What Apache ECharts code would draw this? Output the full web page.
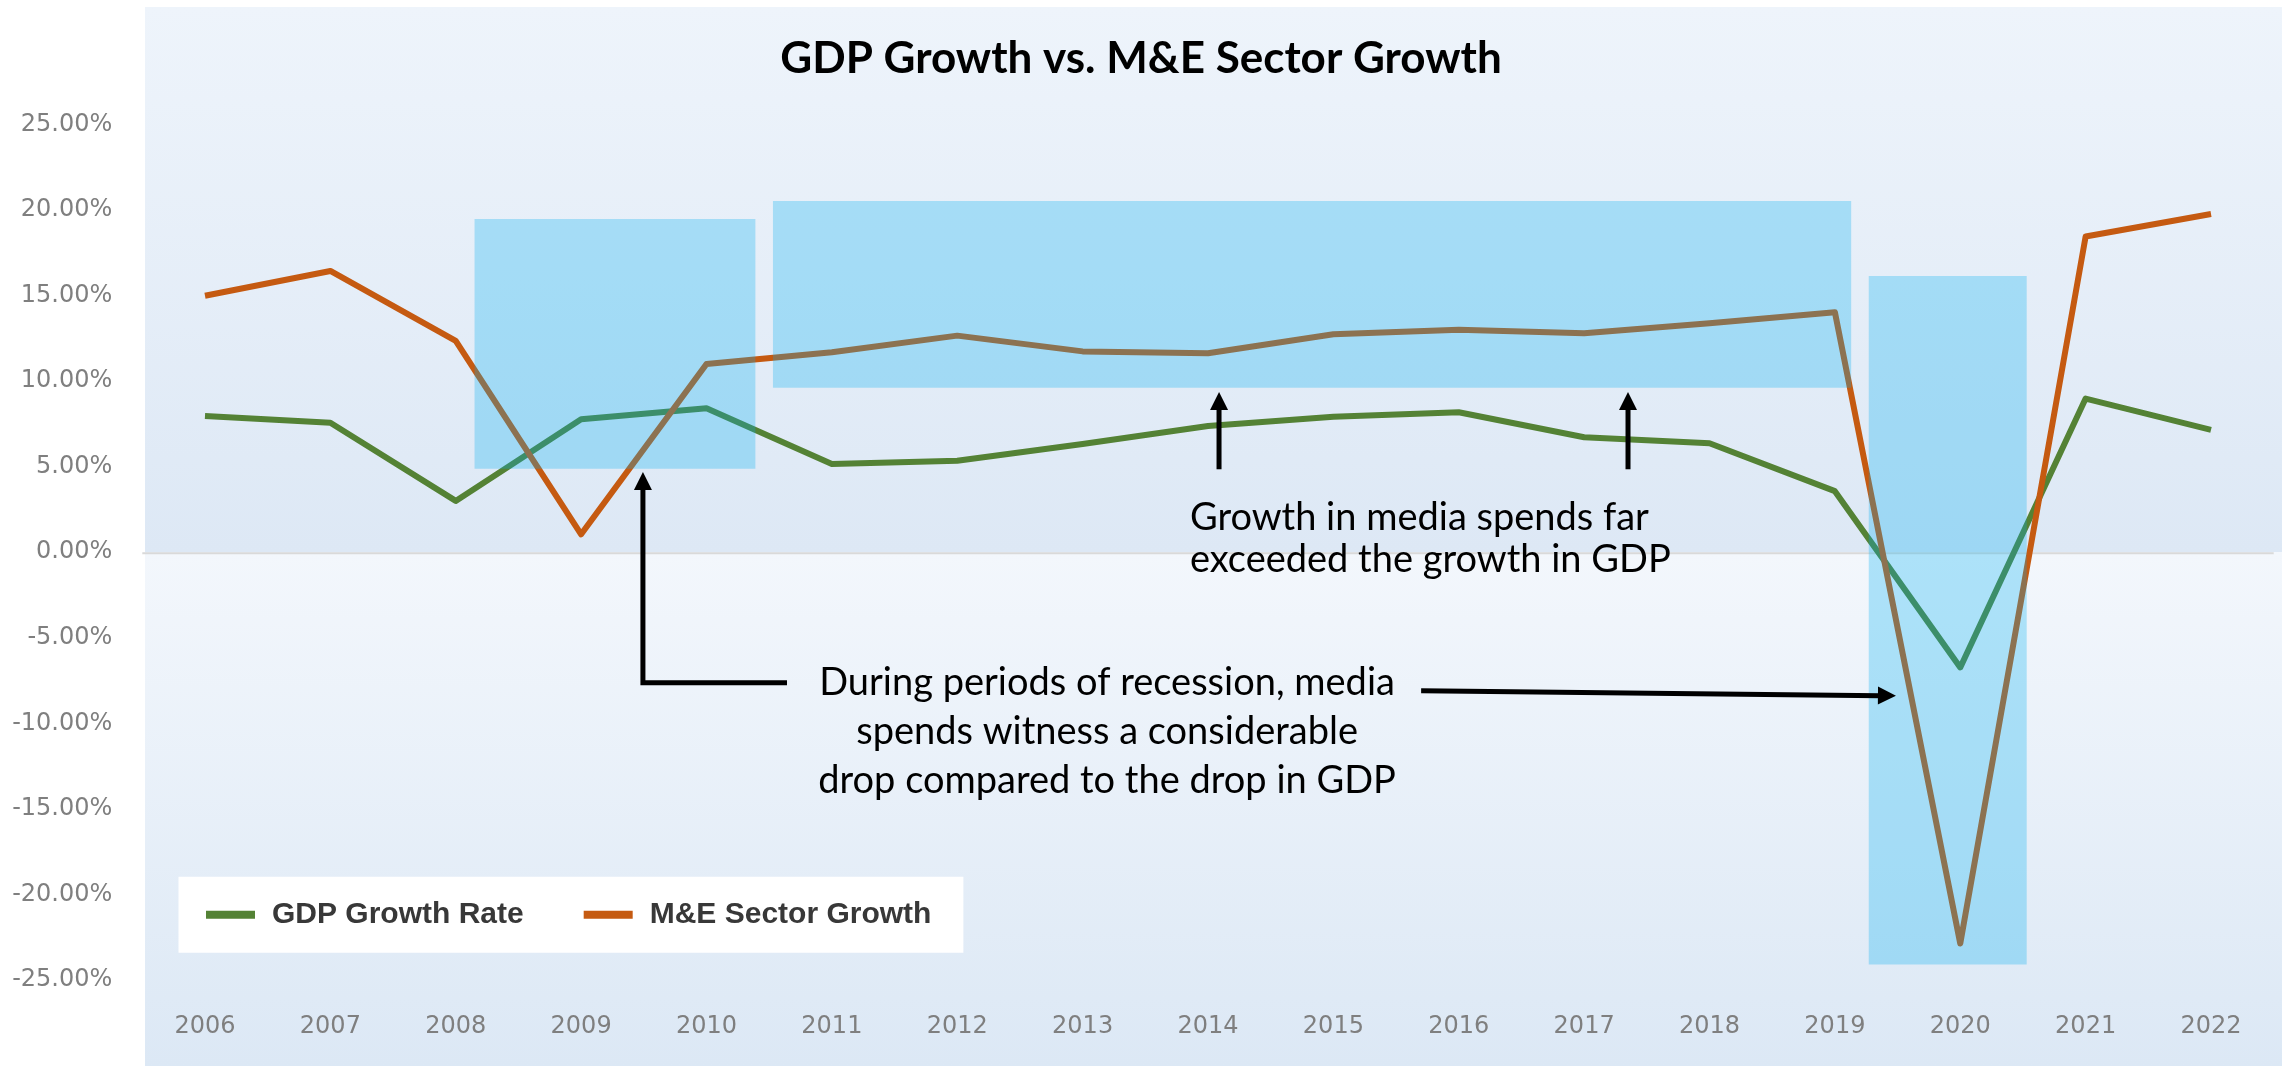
<!DOCTYPE html>
<html><head><meta charset="utf-8">
<script src="https://cdn.jsdelivr.net/npm/echarts@6/dist/echarts.min.js"></script>
<style>html,body{margin:0;padding:0;background:#fff;}#c{width:2282px;height:1066px;}</style>
</head><body><div id="c"></div>
<script>
// ---- data ----
const years = ['2006','2007','2008','2009','2010','2011','2012','2013','2014','2015','2016','2017','2018','2019','2020','2021','2022'];
const gdpGrowth = [7.96, 7.57, 3.00, 7.77, 8.41, 5.16, 5.35, 6.33, 7.38, 7.92, 8.18, 6.72, 6.37, 3.57, -6.73, 8.98, 7.15];
const meGrowth  = [14.99, 16.44, 12.35, 1.05, 11.00, 11.69, 12.66, 11.74, 11.63, 12.74, 13.01, 12.80, 13.38, 14.03, -22.87, 18.45, 19.77];
const yMin = -25, yMax = 25, yStep = 5;
// highlight boxes: [x from (category index), x to, y top %, y bottom %]
const highlightBoxes = [[2.15, 4.39, 19.48, 4.88], [4.53, 13.13, 20.53, 9.62], [13.27, 14.53, 16.15, -24.09]];
// arrows: polylines in [category index, %], last point is the tip
const arrowPaths = [
  [[8.088, 4.85], [8.088, 9.37]],
  [[11.35, 4.85], [11.35, 9.37]],
  [[4.642, -7.62], [3.493, -7.62], [3.493, 4.69]],
  [[9.70, -8.10], [13.487, -8.39]]
];
// notes: [text, x (category index), y (%), align, line height]
const notes = [
  ['Growth in media spends far\nexceeded the growth in GDP', 7.856, 0.77, 'left', 42],
  ['During periods of recession, media\nspends witness a considerable\ndrop compared to the drop in GDP', 7.195, -10.5, 'center', 49]
];

const chart = echarts.init(document.getElementById('c'), null, {renderer: 'canvas'});
const axisFont = {fontFamily: 'DejaVu Sans', fontSize: 24, color: '#7F7F7F'};

const option = {
  animation: false,
  title: {
    text: 'GDP Growth vs. M&E Sector Growth',
    left: 'center', top: 37, padding: 0,
    textStyle: {fontFamily: 'Lato', fontWeight: 'bold', fontSize: 44, color: '#000'}
  },
  grid: {left: 142.3, right: 8.3, top: 124.5, bottom: 86, containLabel: false},
  legend: {
    left: 178.5, top: 876.7, orient: 'horizontal',
    backgroundColor: '#fff', padding: [23, 32, 23, 27.5],
    itemWidth: 49, itemHeight: 8, itemGap: 60, icon: 'rect',
    textStyle: {fontFamily: 'Liberation Sans', fontWeight: 'bold', fontSize: 30, color: '#383838', padding: [0, 0, 0, 12]},
    data: ['GDP Growth Rate', 'M&E Sector Growth']
  },
  xAxis: [
    {type: 'category', data: years, boundaryGap: true,
     axisLine: {show: false, onZero: false}, axisTick: {show: false},
     axisLabel: Object.assign({margin: 35}, axisFont), splitLine: {show: false}},
    {type: 'value', min: -0.5, max: 16.5, show: false}
  ],
  yAxis: {
    type: 'value', min: yMin, max: yMax, interval: yStep,
    axisLine: {show: false}, axisTick: {show: false}, splitLine: {show: false},
    axisLabel: Object.assign({margin: 30, formatter: v => v.toFixed(2) + '%'}, axisFont)
  },
  series: [
    {
      type: 'custom', name: 'zero', xAxisIndex: 1, z: 1, silent: true,
      data: [[0]],
      renderItem: (params, api) => {
        const a = api.coord([-0.5, 0]), b = api.coord([16.5, 0]);
        return {type: 'line', shape: {x1: a[0], y1: a[1] + 1, x2: b[0], y2: b[1] + 1},
                style: {stroke: '#D9D9D9', lineWidth: 2}};
      }
    },
    {
      name: 'GDP Growth Rate', type: 'line', data: gdpGrowth, symbol: 'none', z: 2,
      itemStyle: {color: '#548235'},
      lineStyle: {color: '#548235', width: 6, join: 'round', cap: 'butt'}
    },
    {
      name: 'M&E Sector Growth', type: 'line', data: meGrowth, symbol: 'none', z: 2,
      itemStyle: {color: '#C55A11'},
      lineStyle: {color: '#C55A11', width: 6, join: 'round', cap: 'butt'}
    },
    {
      type: 'custom', name: 'boxes', xAxisIndex: 1, z: 3, silent: true,
      data: highlightBoxes,
      renderItem: (params, api) => {
        const p0 = api.coord([api.value(0), api.value(2)]);
        const p1 = api.coord([api.value(1), api.value(3)]);
        return {type: 'rect', shape: {x: p0[0], y: p0[1], width: p1[0] - p0[0], height: p1[1] - p0[1]},
                style: {fill: 'rgba(0,176,240,0.287)'}};
      }
    },
    {
      type: 'custom', name: 'arrows', xAxisIndex: 1, z: 4, silent: true,
      data: arrowPaths.map(p => p[0]),
      renderItem: (params, api) => {
        const pts = arrowPaths[params.dataIndex].map(p => api.coord(p));
        const n = pts.length;
        const tip = pts[n - 1], prev = pts[n - 2];
        const dx = tip[0] - prev[0], dy = tip[1] - prev[1];
        const len = Math.sqrt(dx * dx + dy * dy);
        const ux = dx / len, uy = dy / len;
        const headL = 18, headW = 9;
        const base = [tip[0] - ux * headL, tip[1] - uy * headL];
        const linePts = pts.slice(0, n - 1).concat([[tip[0] - ux * (headL - 2), tip[1] - uy * (headL - 2)]]);
        return {type: 'group', children: [
          {type: 'polyline', shape: {points: linePts}, style: {stroke: '#000', lineWidth: 5, fill: null, lineJoin: 'miter'}},
          {type: 'polygon', shape: {points: [tip, [base[0] - uy * headW, base[1] + ux * headW], [base[0] + uy * headW, base[1] - ux * headW]]},
           style: {fill: '#000'}}
        ]};
      }
    },
    {
      type: 'custom', name: 'notes', xAxisIndex: 1, z: 5, silent: true,
      data: notes.map(n => [n[1], n[2]]),
      renderItem: (params, api) => {
        const n = notes[params.dataIndex];
        const p = api.coord([api.value(0), api.value(1)]);
        return {type: 'text', x: p[0], y: p[1],
                style: {text: n[0], fill: '#000', font: '38px Lato', align: n[3], verticalAlign: 'middle', lineHeight: n[4]}};
      }
    }
  ]
};
chart.setOption(option);

const zeroY = chart.convertToPixel({yAxisIndex: 0}, 0);
chart.setOption({
  graphic: [
    {type: 'rect', z: -10, silent: true, shape: {x: 145, y: 7, width: 2137, height: zeroY - 7},
     style: {fill: new echarts.graphic.LinearGradient(0, 0, 0, 1, [{offset: 0, color: '#EEF4FB'}, {offset: 1, color: '#DDE8F5'}])}},
    {type: 'rect', z: -10, silent: true, shape: {x: 145, y: zeroY, width: 2137, height: 1066 - zeroY},
     style: {fill: new echarts.graphic.LinearGradient(0, 0, 0, 1, [{offset: 0, color: '#F3F7FC'}, {offset: 1, color: '#DCE8F5'}])}}
  ]
});
</script>
</body></html>
